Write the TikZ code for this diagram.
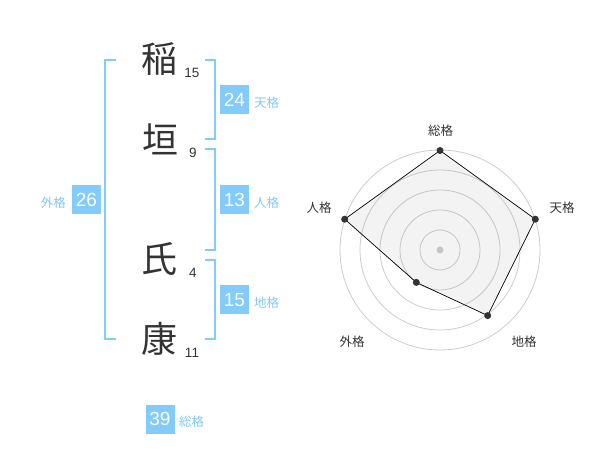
\documentclass[tikz,border=0pt]{standalone}
\usepackage{fontspec}
\setmainfont{Liberation Sans}
\newfontfamily\cjk{Noto Sans CJK JP}
\definecolor{bblue}{RGB}{130,203,250}
\definecolor{lblue}{RGB}{130,200,245}
\definecolor{dtext}{RGB}{51,51,51}
\definecolor{ring}{RGB}{204,204,204}
\begin{document}
\begin{tikzpicture}[x=1pt,y=-1pt,
  kanji/.style={inner sep=0pt,font=\cjk\fontsize{36}{36}\selectfont,text=dtext},
  stroke/.style={inner sep=0pt,font=\fontsize{13.5}{13.5}\selectfont,text=dtext},
  valbox/.style={fill=bblue,text=white,minimum width=29pt,minimum height=29pt,inner sep=0pt,font=\fontsize{19}{19}\selectfont},
  kaku/.style={inner sep=0pt,font=\cjk\fontsize{12.5}{12.5}\selectfont,text=lblue},
  bracket/.style={draw=bblue,line width=2pt},
  rlabel/.style={inner sep=0pt,font=\cjk\fontsize{12.5}{12.5}\selectfont,text=dtext},
  ringline/.style={draw=ring,line width=0.8pt},
  vdot/.style={circle,fill=dtext,inner sep=0pt,minimum size=7pt}]
\useasboundingbox (0,0) rectangle (600,470);
% name characters
\node[kanji] (k1) at (159,59) {稲};
\node[kanji] (k2) at (160,139) {垣};
\node[kanji] (k3) at (159,259) {氏};
\node[kanji] (k4) at (159,339) {康};
\node[stroke] (s1) at (192,73) {15};
\node[stroke] (s2) at (193,153) {9};
\node[stroke] (s3) at (193,273) {4};
\node[stroke] (s4) at (192,353) {11};
% brackets
\coordinate (la) at (116,60);
\coordinate (lb) at (116,339);
\draw[bracket] (la) -- (105,60) -- (105,339) -- (lb);
\coordinate (ta) at (205,60);
\coordinate (tb) at (205,139.5);
\draw[bracket] (ta) -- (214.5,60) -- (214.5,139.5) -- (tb);
\coordinate (ja) at (205,149.5);
\coordinate (jb) at (205,250);
\draw[bracket] (ja) -- (214.5,149.5) -- (214.5,250) -- (jb);
\coordinate (ca) at (205,260);
\coordinate (cb) at (205,339);
\draw[bracket] (ca) -- (214.5,260) -- (214.5,339) -- (cb);
% values
\node[valbox] (v24) at (234.5,100) {24};
\node[kaku,anchor=west] (t24) at (254,103) {天格};
\node[valbox] (v13) at (234.5,200) {13};
\node[kaku,anchor=west] (t13) at (254,203) {人格};
\node[valbox] (v15) at (234.5,300) {15};
\node[kaku,anchor=west] (t15) at (254,303) {地格};
\node[valbox] (v26) at (86.5,200) {26};
\node[kaku,anchor=east] (t26) at (66,203) {外格};
\node[valbox] (v39) at (160,419) {39};
\node[kaku,anchor=west] (t39) at (179,422) {総格};
% radar
\coordinate (c) at (440,250);
\foreach \r in {20,40,60,80,100} \draw[ringline] (c) circle[radius=\r];
\node[circle,fill=ring,inner sep=0pt,minimum size=7pt] (cdot) at (c) {};
\coordinate (p1) at (440,150.5);
\coordinate (p2) at (535.3,219.2);
\coordinate (p3) at (487.7,315.6);
\coordinate (p4) at (416.3,282.4);
\coordinate (p5) at (344.7,219.2);
\fill[black!40,opacity=0.12] (p1) -- (p2) -- (p3) -- (p4) -- (p5) -- cycle;
\draw[black,line width=0.7pt] (p1) -- (p2) -- (p3) -- (p4) -- (p5) -- cycle;
\foreach \p in {p1,p2,p3,p4,p5} \node[vdot] at (\p) {};
\node[rlabel] (r1) at (440.5,130.5) {総格};
\node[rlabel] (r2) at (562,208) {天格};
\node[rlabel] (r3) at (524,342) {地格};
\node[rlabel] (r4) at (352,342) {外格};
\node[rlabel] (r5) at (319,208) {人格};
\end{tikzpicture}
\end{document}
